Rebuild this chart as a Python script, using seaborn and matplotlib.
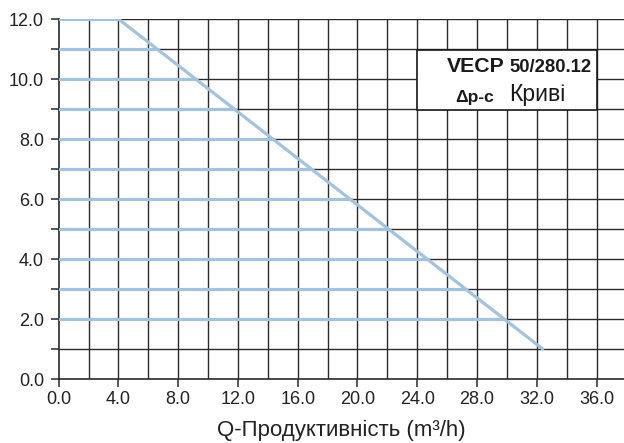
import numpy as np
import matplotlib
matplotlib.use("Agg")
import matplotlib.pyplot as plt
import seaborn as sns
import pandas as pd

# Data
max_q = [0.0, 4.0, 32.4]          # max curve flow (m3/h)
max_h = [12.0, 12.0, 1.0]         # max curve head (m)
dp_levels = [2, 3, 4, 5, 6, 7, 8, 9, 10, 11, 12]   # constant-pressure levels
x_ticks = [0, 4, 8, 12, 16, 20, 24, 28, 32, 36]
y_ticks = [0, 2, 4, 6, 8, 10, 12]
x_label = "Q-Продуктивність (m³/h)"
title_model = "VECP"
title_size = "50/280.12"
title_mode = "Δp-c"
title_word = "Криві"

sns.set_theme(style="white")
plt.rcParams['font.family'] = ['Liberation Sans', 'DejaVu Sans']

W, H = 624, 443
fig = plt.figure(figsize=(W / 100, H / 100), dpi=100)
x0, x1 = 58.7, 624.0
y0, y1 = 379.0, 19.0
ax = fig.add_axes([x0 / W, (H - y0) / H, (x1 - x0) / W, (y0 - y1) / H])
xmax = (x1 - x0) / 14.94
ax.set_xlim(0, xmax)
ax.set_ylim(0, 12)

# grid
for gx in np.arange(2, 38, 2):
    ax.axvline(gx, color="#2a2a2a", lw=1.0, zorder=1)
for gy in np.arange(1, 13, 1):
    ax.axhline(gy, color="#2a2a2a", lw=1.0, zorder=1)

color = "#a2c2de"
# constant-pressure lines, ending at max curve
rows = []
qs = np.array(max_q)[::-1]
hs = np.array(max_h)[::-1]
for i, lv in enumerate(dp_levels):
    q_end = float(np.interp(lv, hs, qs)) if lv < 12 else max_q[1]
    rows.append({"Q": 0.0, "H": lv, "curve": f"L{lv}"})
    rows.append({"Q": q_end, "H": lv, "curve": f"L{lv}"})
df = pd.DataFrame(rows)
sns.lineplot(data=df, x="Q", y="H", units="curve", estimator=None,
             color=color, lw=2.3, ax=ax, zorder=3, legend=False)
dfm = pd.DataFrame({"Q": max_q[1:], "H": max_h[1:]})
sns.lineplot(data=dfm, x="Q", y="H", color=color, lw=2.3, ax=ax, zorder=3,
             estimator=None, sort=False)

for s in ["top", "right"]:
    ax.spines[s].set_visible(False)
for s in ["left", "bottom"]:
    ax.spines[s].set_color("#2a2a2a")
    ax.spines[s].set_linewidth(1.2)

ax.set_xticks(x_ticks)
ax.set_xticklabels([f"{v:.1f}" for v in x_ticks])
ax.set_yticks(np.arange(0, 13, 1))
ax.set_yticklabels([f"{v:.1f}" if v in y_ticks else "" for v in np.arange(0, 13, 1)])
ax.tick_params(axis="both", direction="out", length=5.5, width=1.1, color="#2a2a2a",
               labelsize=13, labelcolor="#222222", left=True, bottom=True)
ax.tick_params(axis="x", pad=3.5)
ax.tick_params(axis="y", pad=5)
ax.set_xlabel("")
ax.set_ylabel("")
fig.text((x0 + x1) / 2 / W, 1 - 436 / H, x_label, ha="center", va="baseline",
         fontsize=16, color="#222222")

# info box
bx0, bx1, by0, by1 = 417, 597, 50, 110
box = plt.Rectangle((bx0 / W, 1 - by1 / H), (bx1 - bx0) / W, (by1 - by0) / H,
                    transform=fig.transFigure, facecolor="white", edgecolor="#1a1a1a",
                    lw=1.2, zorder=5)
fig.patches.append(box)
fig.text(446.5 / W, 1 - 72 / H, title_model, fontsize=15.3, fontweight="bold",
         color="#1a1a1a", ha="left", va="baseline", zorder=6)
fig.text(509 / W, 1 - 72 / H, title_size, fontsize=13.3, fontweight="bold",
         color="#1a1a1a", ha="left", va="baseline", zorder=6)
fig.text(455.5 / W, 1 - 102 / H, title_mode, fontsize=12.5, fontweight="bold",
         color="#1a1a1a", ha="left", va="baseline", zorder=6)
fig.text(509 / W, 1 - 101.5 / H, title_word, fontsize=16.6,
         color="#1a1a1a", ha="left", va="baseline", zorder=6)

fig.savefig("out.png", dpi=100)
